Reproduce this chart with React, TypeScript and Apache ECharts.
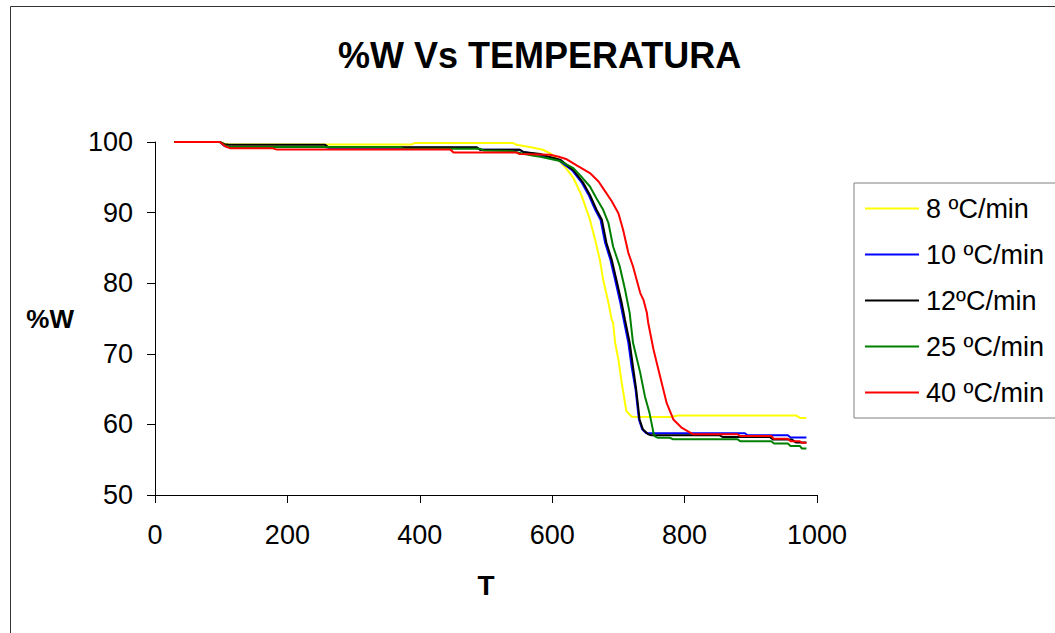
import React, { useEffect, useRef } from "react";
import * as echarts from "echarts";

const seriesNames = ["8 ºC/min", "10 ºC/min", "12ºC/min", "25 ºC/min", "40 ºC/min"];
const seriesColors = ["#FFFF00", "#0000FF", "#000000", "#008000", "#FF0000"];

const xTicks = { min: 0, max: 1000, interval: 200 };
const yTicks = { min: 50, max: 100, interval: 10 };

const data8: [number, number][] = [
  [29, 100], [98, 100], [104, 99.8], [110, 99.65], [388, 99.65], [392, 99.85], [541, 99.85],
  [546, 99.6], [566, 99.3], [586, 98.9], [597, 98.4], [608, 97.6], [619, 96.5], [632, 94.9],
  [644, 92.5], [657, 89.0], [665, 86.1], [672, 83.3], [677, 80.5], [685, 77.2], [690, 74.8],
  [692, 74.4], [695, 71.6], [700, 69.2], [705, 65.9], [712, 61.9], [720, 61.1], [780, 61.05],
  [790, 61.25], [969, 61.25], [975, 60.9], [984, 60.9],
];

const data10: [number, number][] = [
  [29, 100], [98, 100], [104, 99.5], [110, 99.3], [257, 99.3], [262, 99.2], [486, 99.2],
  [491, 98.9], [551, 98.9], [556, 98.6], [575, 98.3], [590, 97.9], [610, 97.4], [630, 96.0],
  [645, 94.2], [655, 92.5], [665, 90.4], [673, 89.0], [680, 85.7], [688, 83.3], [695, 80.5],
  [703, 77.2], [708, 74.8], [715, 71.6], [720, 68.2], [726, 64.9], [731, 60.7], [736, 59.3],
  [742, 58.75], [891, 58.75], [895, 58.45], [956, 58.45], [960, 58.15], [984, 58.15],
];

const data12: [number, number][] = [
  [29, 100], [98, 100], [105, 99.7], [112, 99.6], [257, 99.6], [262, 99.25], [486, 99.25],
  [491, 98.9], [551, 98.9], [556, 98.6], [582, 98.3], [595, 97.9], [612, 97.5], [632, 96.0],
  [647, 94.2], [657, 92.5], [667, 90.4], [675, 89.0], [682, 85.7], [690, 83.3], [697, 80.5],
  [705, 77.2], [710, 74.8], [717, 71.6], [722, 68.2], [727, 64.9], [732, 60.7], [737, 59.3],
  [745, 58.6], [750, 58.45], [853, 58.45], [858, 58.2], [929, 58.2], [934, 57.85], [962, 57.85],
  [968, 57.45], [984, 57.45],
];

const data25: [number, number][] = [
  [29, 100], [98, 100], [106, 99.5], [112, 99.3], [370, 99.3], [375, 99.05], [491, 99.05],
  [496, 98.8], [540, 98.7], [553, 98.4], [570, 98.1], [582, 97.9], [612, 97.3], [632, 96.3],
  [642, 95.3], [657, 93.7], [667, 92.0], [677, 90.4], [685, 88.5], [692, 85.2], [702, 82.4],
  [710, 79.1], [717, 75.8], [722, 71.6], [733, 67.3], [740, 64.0], [747, 61.6], [753, 58.8],
  [755, 58.3], [760, 58.1], [778, 58.1], [782, 57.9], [880, 57.9], [884, 57.6], [931, 57.6],
  [935, 57.3], [956, 57.3], [960, 56.95], [974, 56.95], [977, 56.6], [984, 56.6],
];

const data40: [number, number][] = [
  [29, 100], [98, 100], [106, 99.4], [114, 99.1], [178, 99.1], [183, 98.95], [446, 98.95],
  [451, 98.5], [546, 98.5], [551, 98.3], [597, 98.2], [610, 97.9], [622, 97.55], [637, 96.7],
  [657, 95.6], [670, 94.4], [680, 93.0], [690, 91.6], [700, 89.9], [707, 87.6], [715, 84.3],
  [722, 82.4], [733, 78.6], [738, 77.6], [743, 75.8], [745, 74.4], [753, 70.6], [763, 66.8],
  [773, 63.0], [783, 60.7], [796, 59.5], [813, 58.6], [880, 58.6], [884, 58.35], [931, 58.35],
  [935, 57.95], [956, 57.95], [960, 57.6], [974, 57.6], [977, 57.4], [984, 57.4],
];

const allData = [data8, data10, data12, data25, data40];

const FONT = "'Liberation Sans', Arial, Helvetica, sans-serif";

export default function App() {
  const ref = useRef<HTMLDivElement>(null);

  useEffect(() => {
    if (!ref.current) return;
    const chart = echarts.init(ref.current, undefined, { renderer: "svg" });
    chart.setOption({
      animation: false,
      backgroundColor: "#ffffff",
      textStyle: { fontFamily: FONT, color: "#000" },
      title: {
        text: "%W Vs TEMPERATURA",
        left: 338,
        top: 37,
        padding: 0,
        textStyle: { fontFamily: FONT, fontSize: 36, fontWeight: "bold", color: "#000" },
      },
      graphic: [
        {
          type: "rect",
          shape: { x: 10.5, y: 6.5, width: 1100, height: 700 },
          style: { fill: "none", stroke: "#333333", lineWidth: 1 },
          silent: true,
          z: -1,
        },
      ],
      legend: {
        orient: "vertical",
        left: 854,
        top: 183,
        padding: [12, 40, 12, 11],
        itemGap: 19,
        itemWidth: 54,
        itemHeight: 2,
        icon: "rect",
        borderColor: "#808080",
        borderWidth: 1,
        backgroundColor: "#ffffff",
        data: seriesNames,
        textStyle: { fontFamily: FONT, fontSize: 27, lineHeight: 27, color: "#000", padding: [0, 0, 0, 2] },
      },
      grid: { left: 155, right: 238, top: 142, bottom: 138, containLabel: false },
      xAxis: {
        type: "value",
        min: xTicks.min,
        max: xTicks.max,
        interval: xTicks.interval,
        name: "T",
        nameLocation: "middle",
        nameGap: 76,
        nameTextStyle: { fontFamily: FONT, fontSize: 28, fontWeight: "bold", color: "#000" },
        axisLine: { show: true, onZero: false, lineStyle: { color: "#000", width: 1 } },
        axisTick: { show: true, length: 8, lineStyle: { color: "#000", width: 1 } },
        axisLabel: {
          fontFamily: FONT,
          fontSize: 27,
          color: "#000",
          margin: 26,
          formatter: (v: number) => String(v),
        },
        splitLine: { show: false },
      },
      yAxis: {
        type: "value",
        min: yTicks.min,
        max: yTicks.max,
        interval: yTicks.interval,
        name: "%W",
        nameLocation: "middle",
        nameRotate: 0,
        nameGap: 81,
        nameTextStyle: { fontFamily: FONT, fontSize: 26, fontWeight: "bold", color: "#000" },
        axisLine: { show: true, onZero: false, lineStyle: { color: "#000", width: 1 } },
        axisTick: { show: true, length: 8, lineStyle: { color: "#000", width: 1 } },
        axisLabel: {
          fontFamily: FONT,
          fontSize: 27,
          color: "#000",
          margin: 22,
          formatter: (v: number) => String(v),
        },
        splitLine: { show: false },
      },
      series: seriesNames.map((name, i) => ({
        name,
        type: "line",
        data: allData[i],
        showSymbol: false,
        symbol: "none",
        color: seriesColors[i],
        lineStyle: { color: seriesColors[i], width: 2 },
        z: 2 + i,
      })),
    });
    return () => chart.dispose();
  }, []);

  return (
    <div
      ref={ref}
      style={{ position: "fixed", left: 0, top: 0, width: 1055, height: 633, background: "#fff" }}
    />
  );
}
